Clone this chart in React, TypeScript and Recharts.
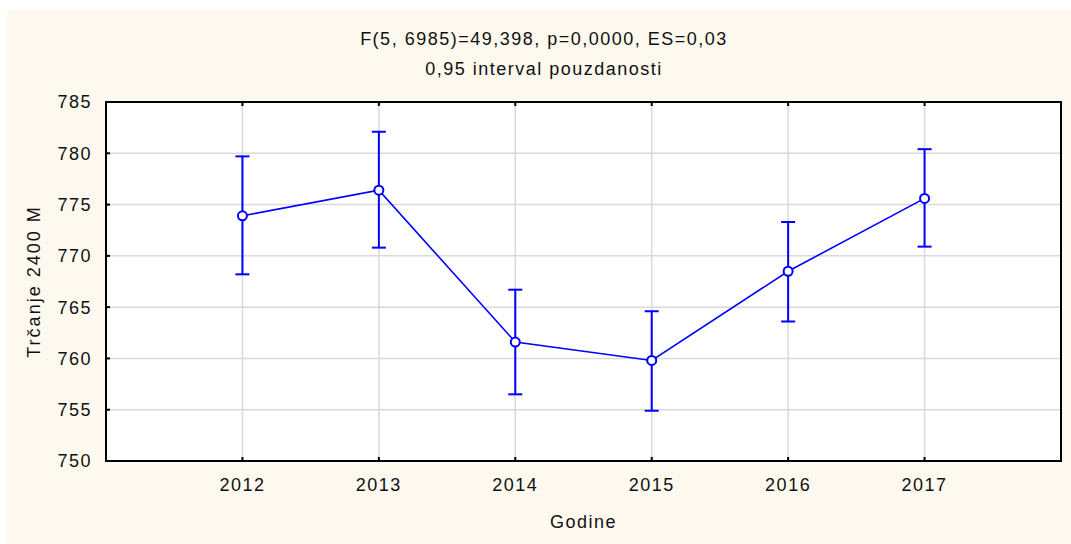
import { LineChart, Line, XAxis, YAxis, CartesianGrid, ErrorBar, ReferenceArea } from "recharts";

const years = [2012, 2013, 2014, 2015, 2016, 2017];
const means = [773.9, 776.4, 761.6, 759.8, 768.5, 775.6];
const lower = [768.2, 770.8, 756.5, 754.9, 763.6, 770.9];
const upper = [779.7, 782.1, 766.7, 764.6, 773.3, 780.4];
const yTicks = [750, 755, 760, 765, 770, 775, 780, 785];

const title1 = "F(5, 6985)=49,398, p=0,0000, ES=0,03";
const title2 = "0,95 interval pouzdanosti";

const font = "'Liberation Sans', Arial, sans-serif";
const blue = "#0000ff";

export default function App() {
  // error bar needs [minus, plus] around the mean
  const data = years.map((y, i) => ({
    year: y,
    mean: means[i],
    err: [means[i] - lower[i], upper[i] - means[i]],
  }));

  const tickStyle = { fill: "#111", fontSize: 18, fontFamily: font, letterSpacing: 1.5 };

  return (
    <div style={{ position: "absolute", left: 0, top: 0, width: 1071, height: 544, background: "#fff" }}>
      <div style={{ position: "absolute", left: 7, top: 10, right: 0, bottom: 0, background: "#fdf9ee" }} />
      <div style={{ position: "absolute", left: 0, width: 1088, top: 30, textAlign: "center", fontFamily: font, fontSize: 18, lineHeight: "18px", letterSpacing: 1.5, color: "#111" }}>
        {title1}
      </div>
      <div style={{ position: "absolute", left: 0, width: 1088, top: 60, textAlign: "center", fontFamily: font, fontSize: 18, lineHeight: "18px", letterSpacing: 1.5, color: "#111" }}>
        {title2}
      </div>
      <LineChart
        width={1071}
        height={544}
        data={data}
        margin={{ top: 101, right: 9, bottom: 0, left: 0 }}
        style={{ position: "absolute", left: 0, top: 0 }}
      >
        <CartesianGrid stroke="#d9d9d9" strokeWidth={1.5} fill="#fff" />
        <XAxis
          dataKey="year"
          type="number"
          domain={[2011, 2018]}
          ticks={years}
          height={83}
          tickSize={-4}
          tickMargin={21}
          axisLine={{ stroke: "#000", strokeWidth: 2 }}
          tickLine={{ stroke: "#000", strokeWidth: 2 }}
          tick={tickStyle}
          label={{ value: "Godine", position: "insideBottom", offset: 16, fill: "#111", fontSize: 18, fontFamily: font, letterSpacing: 1.5 }}
        />
        <XAxis
          xAxisId="top"
          orientation="top"
          dataKey="year"
          type="number"
          domain={[2011, 2018]}
          ticks={years}
          height={1}
          tickSize={-4}
          tickFormatter={() => ""}
          axisLine={{ stroke: "#000", strokeWidth: 2 }}
          tickLine={{ stroke: "#000", strokeWidth: 2 }}
        />
        <YAxis
          type="number"
          domain={[750, 785]}
          ticks={yTicks}
          width={106}
          tickSize={-4}
          tickMargin={18}
          axisLine={{ stroke: "#000", strokeWidth: 2 }}
          tickLine={{ stroke: "#000", strokeWidth: 2 }}
          tick={tickStyle}
          label={{ value: "Trčanje 2400 M", angle: -90, position: "insideLeft", offset: 34, fill: "#111", fontSize: 18, fontFamily: font, letterSpacing: 2, style: { textAnchor: "middle" } }}
        />
        <YAxis
          yAxisId="right"
          orientation="right"
          type="number"
          domain={[750, 785]}
          ticks={yTicks}
          width={1}
          tickSize={-4}
          tickFormatter={() => ""}
          axisLine={{ stroke: "#000", strokeWidth: 2 }}
          tickLine={{ stroke: "#000", strokeWidth: 2 }}
        />
        <ReferenceArea x1={2011} x2={2018} y1={750} y2={785} fill="none" stroke="#000" strokeWidth={2} ifOverflow="visible" />
        <Line
          dataKey="mean"
          stroke={blue}
          strokeWidth={1.6}
          dot={{ r: 4.5, fill: "#fff", stroke: blue, strokeWidth: 2 }}
          activeDot={false}
          isAnimationActive={false}
        >
          <ErrorBar dataKey="err" direction="y" width={7} stroke={blue} strokeWidth={2} isAnimationActive={false} />
        </Line>
      </LineChart>
    </div>
  );
}
